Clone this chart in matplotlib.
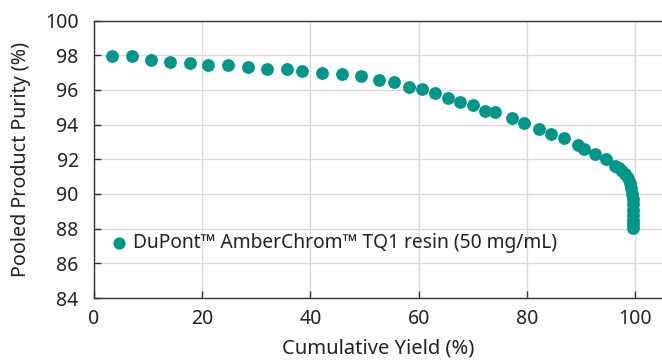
import matplotlib.pyplot as plt

plt.rcParams['font.family'] = ['Noto Sans', 'DejaVu Sans']

# cumulative yield (%) and pooled purity (%)
yield_pct = [3.3, 7.0, 10.6, 14.0, 17.7, 21.1, 24.8, 28.5, 31.9, 35.6,
             38.5, 42.2, 45.9, 49.3, 52.6, 55.5, 58.3, 60.6, 63.0, 65.4,
             67.7, 70.1, 72.3, 74.1, 77.2, 79.4, 82.2, 84.4, 86.8, 89.5,
             90.6, 92.6, 94.6, 96.4, 97.0, 97.6, 98.2, 98.7, 99.0, 99.3,
             99.5, 99.6, 99.6, 99.6, 99.6, 99.6, 99.6, 99.6]
purity_pct = [97.95, 97.95, 97.72, 97.62, 97.53, 97.43, 97.43, 97.30, 97.20, 97.20,
              97.10, 96.99, 96.90, 96.80, 96.57, 96.47, 96.15, 96.03, 95.84, 95.55,
              95.32, 95.11, 94.80, 94.71, 94.40, 94.09, 93.74, 93.45, 93.20, 92.82,
              92.59, 92.28, 92.00, 91.60, 91.50, 91.35, 91.15, 90.90, 90.65, 90.35,
              90.00, 89.70, 89.40, 89.10, 88.80, 88.50, 88.25, 88.02]
label = 'DuPont™ AmberChrom™ TQ1 resin (50 mg/mL)'

x_ticks = [0, 20, 40, 60, 80, 100]
y_ticks = [84, 86, 88, 90, 92, 94, 96, 98, 100]

fig = plt.figure(figsize=(6.62, 3.6), dpi=100)
ax = fig.add_axes([0.142, 0.172, 0.858, 0.771])

ax.scatter(yield_pct, purity_pct, s=85, color='#00968a', linewidths=0,
           label=label, zorder=3)

ax.set_xlim(0, 105)
ax.set_ylim(84, 100)
ax.set_xticks(x_ticks)
ax.set_yticks(y_ticks)
ax.grid(True, color='#d9d9d9', linewidth=1.0, zorder=0)
ax.set_axisbelow(True)

for side in ['left', 'bottom', 'top']:
    ax.spines[side].set_color('#333333')
    ax.spines[side].set_linewidth(1.0)
ax.spines['right'].set_visible(False)
ax.tick_params(direction='in', length=5, width=1, colors='#333333',
               labelsize=14, labelcolor='#222222')
ax.tick_params(axis='x', pad=8)
ax.tick_params(axis='y', pad=11)

ax.set_xlabel('Cumulative Yield (%)', fontsize=14.5, color='#222222', labelpad=7)
ax.set_ylabel('Pooled Product Purity (%)', fontsize=14.2, color='#222222', labelpad=10)

ax.legend(loc='center left', bbox_to_anchor=(0.0, 0.198), frameon=False,
          fontsize=13.8, handlelength=1.36, handletextpad=0.1, borderpad=0,
          borderaxespad=0.6, scatterpoints=1, markerscale=0.95,
          labelcolor='#222222')

fig.savefig('out.png', dpi=100)
